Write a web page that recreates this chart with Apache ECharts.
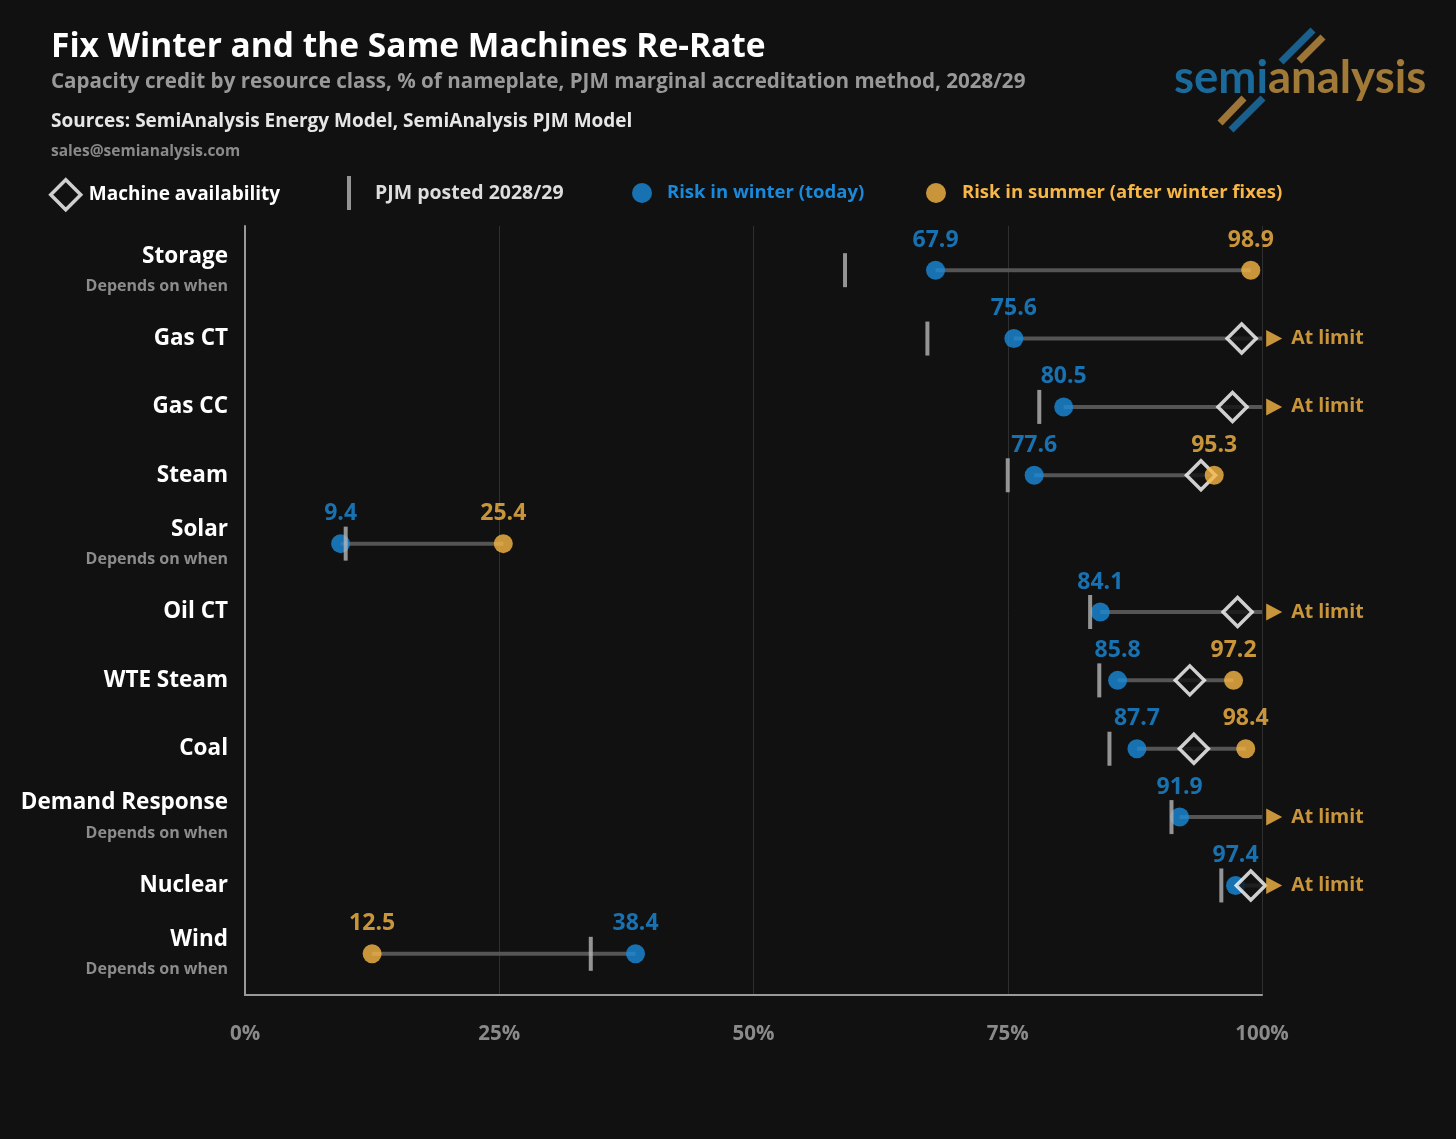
<!DOCTYPE html>
<html>
<head>
<meta charset="utf-8">
<script src="https://cdn.jsdelivr.net/npm/echarts@6/dist/echarts.min.js"></script>
<style>
html,body{margin:0;padding:0;background:#111111;}
#chart{width:1456px;height:1139px;}
</style>
</head>
<body>
<div id="chart"></div>
<script>
// ---- data ----
const categories = ['Storage','Gas CT','Gas CC','Steam','Solar','Oil CT','WTE Steam','Coal','Demand Response','Nuclear','Wind'];
const subLabels  = ['Depends on when','','','','Depends on when','','','','Depends on when','','Depends on when'];
const winter     = [67.9, 75.6, 80.5, 77.6, 9.4, 84.1, 85.8, 87.7, 91.9, 97.4, 38.4];
const summer     = [98.9, null, null, 95.3, 25.4, null, 97.2, 98.4, null, null, 12.5];
const machine    = [null, 98.0, 97.1, 94.0, null, 97.6, 92.9, 93.3, null, 98.9, null];
const pjmPosted  = [59.0, 67.1, 78.1, 75.0, 9.9, 83.1, 84.0, 85.0, 91.1, 96.0, 34.0];
const atLimit    = [false, true, true, false, false, true, false, false, true, true, false];
const xTicks     = [0, 25, 50, 75, 100];

const FONT = 'Open Sans';
const BLUE = '#1a89da';
const ORANGE = '#f8b646';
const ARROW_AT = 101.2;

const connectorData = categories.map((c, i) => {
  const vals = [winter[i], summer[i], machine[i]].filter(v => v !== null);
  const lo = Math.min(...vals);
  const hi = atLimit[i] ? 100 : Math.max(...vals);
  return [lo, hi, i];
});
const winterData = winter.map((v, i) => v === null ? null : [v, i]).filter(Boolean);
const summerData = summer.map((v, i) => v === null ? null : [v, i]).filter(Boolean);
const machineData = machine.map((v, i) => v === null ? null : [v, i]).filter(Boolean);
const pjmData = pjmPosted.map((v, i) => [v, i]);
const limitData = atLimit.map((f, i) => f ? [ARROW_AT, i] : null).filter(Boolean);

const chart = echarts.init(document.getElementById('chart'));

const valueLabel = (color) => ({
  show: true, position: 'top', distance: 9,
  color: color, fontFamily: FONT, fontWeight: 'bold', fontSize: 23,
  formatter: p => p.value[0].toFixed(1)
});

const option = {
  backgroundColor: '#111111',
  animation: false,
  title: [
    { text: 'Fix Winter and the Same Machines Re-Rate', left: 51, top: 30, padding: 0,
      textStyle: { color: '#ffffff', fontFamily: FONT, fontWeight: 'bold', fontSize: 33.5 } },
    { text: 'Capacity credit by resource class, % of nameplate, PJM marginal accreditation method, 2028/29', left: 51, top: 72, padding: 0,
      textStyle: { color: '#999999', fontFamily: FONT, fontWeight: 'bold', fontSize: 20.6 } },
    { text: 'Sources: SemiAnalysis Energy Model, SemiAnalysis PJM Model', left: 51, top: 112, padding: 0,
      textStyle: { color: '#e6e6e6', fontFamily: FONT, fontWeight: 'bold', fontSize: 19 } },
    { text: 'sales@semianalysis.com', left: 51, top: 144, padding: 0,
      textStyle: { color: '#8a8a8a', fontFamily: FONT, fontWeight: 'bold', fontSize: 15.5 } }
  ],
  legend: [
    { left: 49, top: 178, padding: 0, selectedMode: false, itemWidth: 30, itemHeight: 30,
      data: [{ name: 'Machine availability', icon: 'diamond', itemStyle: { color: '#111111', borderColor: '#ffffff', borderWidth: 3.5 } }],
      textStyle: { color: '#ffffff', fontFamily: FONT, fontWeight: 'bold', fontSize: 19, padding: [0,0,0,3] } },
    { left: 347, top: 176, padding: 0, selectedMode: false, itemWidth: 4, itemHeight: 34,
      data: [{ name: 'PJM posted 2028/29', icon: 'rect' }],
      textStyle: { color: '#dddddd', fontFamily: FONT, fontWeight: 'bold', fontSize: 19.5, padding: [0,0,0,19] } },
    { left: 632, top: 183, padding: 0, selectedMode: false, itemWidth: 20, itemHeight: 20,
      data: [{ name: 'Risk in winter (today)', icon: 'circle' }],
      textStyle: { color: BLUE, fontFamily: FONT, fontWeight: 'bold', fontSize: 18.5, padding: [0,0,0,10] } },
    { left: 926, top: 183, padding: 0, selectedMode: false, itemWidth: 20, itemHeight: 20,
      data: [{ name: 'Risk in summer (after winter fixes)', icon: 'circle' }],
      textStyle: { color: ORANGE, fontFamily: FONT, fontWeight: 'bold', fontSize: 18.5, padding: [0,0,0,11] } }
  ],
  grid: [
    { left: 245, right: 194, top: 236, height: 752 },
    { left: 245, right: 194, top: 226, bottom: 144 }
  ],
  xAxis: [
    { gridIndex: 0, type: 'value', min: 0, max: 100, show: false },
    { gridIndex: 1, type: 'value', min: 0, max: 100, interval: 25,
      axisLine: { show: true, lineStyle: { color: '#9a9a9a', width: 2 } },
      axisTick: { show: false },
      splitLine: { show: true, lineStyle: { color: '#2f2f2f', width: 1 } },
      axisLabel: { margin: 29, color: '#8a8a8a', fontFamily: FONT, fontWeight: 'bold', fontSize: 20.5,
        formatter: v => xTicks.includes(v) ? v + '%' : '' } }
  ],
  yAxis: [
    { gridIndex: 0, type: 'category', inverse: true, data: categories,
      axisLine: { show: false }, axisTick: { show: false }, splitLine: { show: false },
      axisLabel: {
        margin: 17, align: 'right',
        formatter: (v, i) => subLabels[i] ? '{n|' + v + '}\n{s|' + subLabels[i] + '}' : '{n|' + v + '}',
        rich: {
          n: { color: '#ffffff', fontFamily: FONT, fontWeight: 'bold', fontSize: 22.5, lineHeight: 32, align: 'right' },
          s: { color: '#8c8c8c', fontFamily: FONT, fontWeight: 'bold', fontSize: 16, lineHeight: 28, align: 'right' }
        }
      } },
    { gridIndex: 1, type: 'value', min: 0, max: 1,
      axisLine: { show: true, lineStyle: { color: '#9a9a9a', width: 2 } },
      axisTick: { show: false }, splitLine: { show: false }, axisLabel: { show: false } }
  ],
  series: [
    { name: 'connector', type: 'custom', xAxisIndex: 0, yAxisIndex: 0,
      data: connectorData, encode: { x: [0, 1], y: 2 }, silent: true,
      renderItem: (params, api) => {
        const p1 = api.coord([api.value(0), api.value(2)]);
        const p2 = api.coord([api.value(1), api.value(2)]);
        return { type: 'line', shape: { x1: p1[0], y1: p1[1], x2: p2[0], y2: p2[1] },
                 style: { stroke: '#555555', lineWidth: 4 } };
      } },
    { name: 'Risk in winter (today)', type: 'scatter', xAxisIndex: 0, yAxisIndex: 0,
      data: winterData, symbol: 'circle', symbolSize: 19,
      itemStyle: { color: BLUE }, label: valueLabel(BLUE) },
    { name: 'PJM posted 2028/29', type: 'scatter', xAxisIndex: 0, yAxisIndex: 0,
      data: pjmData, symbol: 'rect', symbolSize: [4, 34],
      itemStyle: { color: '#b5b5b5' } },
    { name: 'Machine availability', type: 'scatter', xAxisIndex: 0, yAxisIndex: 0,
      data: machineData, symbol: 'diamond', symbolSize: [29, 29],
      itemStyle: { color: '#111111', borderColor: '#ffffff', borderWidth: 3.5 } },
    { name: 'Risk in summer (after winter fixes)', type: 'scatter', xAxisIndex: 0, yAxisIndex: 0,
      data: summerData, symbol: 'circle', symbolSize: 19,
      itemStyle: { color: ORANGE }, label: valueLabel(ORANGE) },
    { name: 'At limit', type: 'scatter', xAxisIndex: 0, yAxisIndex: 0, clip: false,
      data: limitData, symbol: 'path://M0,0 L14,8 L0,16 Z', symbolSize: [16, 17],
      itemStyle: { color: ORANGE },
      label: { show: true, position: 'right', distance: 9, formatter: 'At limit',
        color: ORANGE, fontFamily: FONT, fontWeight: 'bold', fontSize: 19.5 } }
  ],
  graphic: [
    { type: 'line', shape: { x1: 1281, y1: 62, x2: 1313, y2: 30 }, style: { stroke: '#1b5f8c', lineWidth: 7 } },
    { type: 'line', shape: { x1: 1299, y1: 61, x2: 1323, y2: 37 }, style: { stroke: '#9c7537', lineWidth: 7 } },
    { type: 'line', shape: { x1: 1220, y1: 123, x2: 1244, y2: 98 }, style: { stroke: '#9c7537', lineWidth: 7 } },
    { type: 'line', shape: { x1: 1231, y1: 130, x2: 1263, y2: 98 }, style: { stroke: '#1b5f8c', lineWidth: 7 } },
    { type: 'text', left: 1174, top: 55, z: 10,
      style: { text: '{a|semi}{b|analysis}', rich: {
        a: { fill: '#1b6a9c', fontFamily: 'Lato', fontWeight: 'bold', fontSize: 45.5 },
        b: { fill: '#a27a38', fontFamily: 'Lato', fontWeight: 'bold', fontSize: 45.5 }
      } } }
  ]
};
chart.setOption(option);
</script>
</body>
</html>
